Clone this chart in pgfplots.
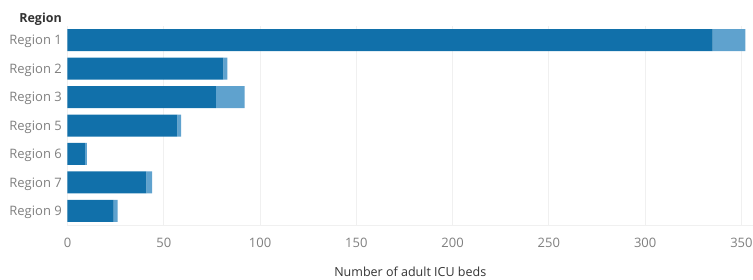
\documentclass[border=0pt]{standalone}
\usepackage{pgfplots}
\pgfplotsset{compat=1.18}
\usetikzlibrary{calc}
\usepackage{fontspec}
\setmainfont{Open Sans}
\definecolor{dark}{HTML}{1170AA}
\definecolor{light}{HTML}{5FA2CE}
\definecolor{lbl}{HTML}{7F7F7F}
\definecolor{ttl}{HTML}{333333}
\definecolor{grid}{HTML}{F0F0F0}
\begin{document}
\begin{tikzpicture}
\begin{axis}[
  scale only axis, width=685.5pt, height=199pt,
  xbar stacked, bar width=22pt,
  xmin=0, xmax=356,
  ymin=-0.5, ymax=6.5, y dir=reverse,
  ytick={0,...,6},
  yticklabels={Region 1,Region 2,Region 3,Region 5,Region 6,Region 7,Region 9},
  xtick={0,50,...,350},
  major tick length=0pt,
  axis line style={draw=none},
  xmajorgrids, grid style={draw=grid, line width=0.8pt},
  tick label style={font=\fontsize{13}{15}\selectfont, text=lbl},
  /pgf/number format/assume math mode=true,
  x tick label style={yshift=-10pt},
  y tick label style={inner sep=0pt, xshift=-5.5pt, yshift=-1.5pt},
  clip=false,
]
\addplot[fill=dark, draw=none] coordinates {(335,0) (81,1) (77,2) (57,3) (9,4) (41,5) (24,6)};
\addplot[fill=light, draw=none] coordinates {(17,0) (2,1) (15,2) (2,3) (1,4) (3,5) (2,6)};
\draw[grid, line width=0.8pt] (axis cs:0,6.5) -- (axis cs:356,6.5);
\draw[grid, line width=0.8pt] (axis cs:0,-0.5) -- (axis cs:0,6.5);
\coordinate (bl) at (axis cs:0,6.5);
\end{axis}
\node[anchor=center, inner sep=0pt, text=ttl, font=\fontsize{12.5}{14}\selectfont] at ($(bl)+(342.75pt,-46.5pt)$) {Number of adult ICU beds};
\node[anchor=east, inner sep=0pt, text=ttl, font=\fontsize{12.5}{14}\selectfont\bfseries] at ($(bl)+(-5.5pt,206pt)$) {Region};
\pgfresetboundingbox
\path[use as bounding box] ($(bl)+(-67.5pt,-55pt)$) rectangle ++(753pt,280pt);
\end{tikzpicture}
\end{document}
